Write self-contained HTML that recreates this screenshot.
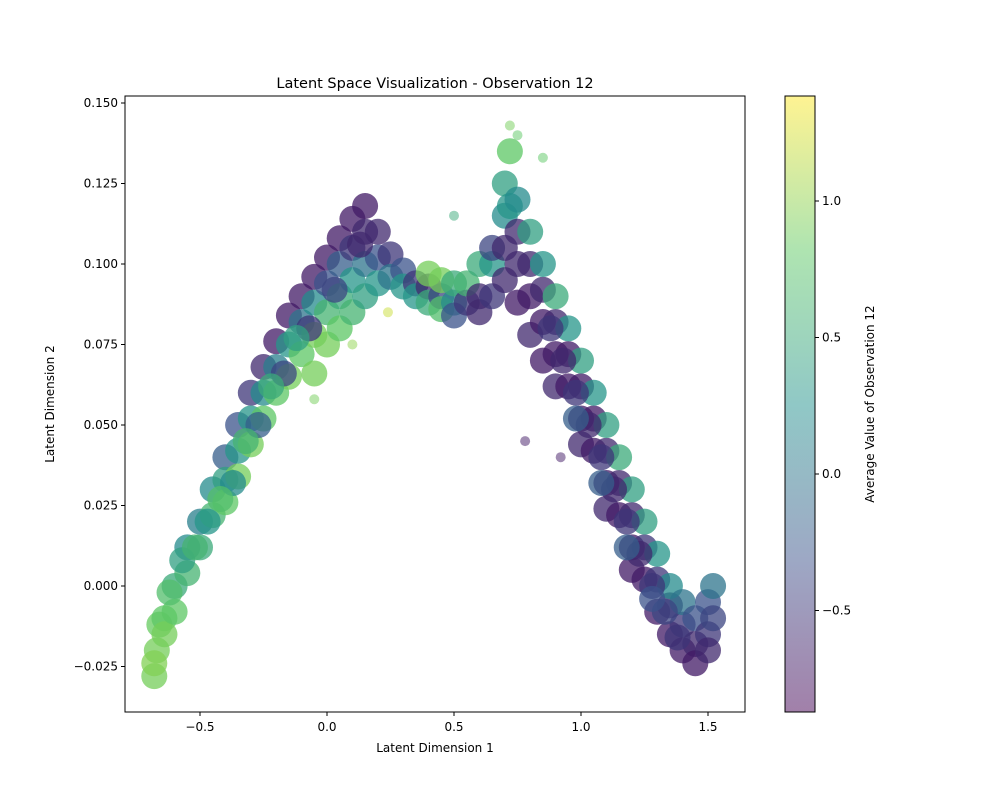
<!DOCTYPE html>
<html><head><meta charset="utf-8"><style>
body{margin:0;background:#fff;font-family:"Liberation Sans","DejaVu Sans",sans-serif}
svg text{font-family:"DejaVu Sans","Liberation Sans",sans-serif;font-size:12px;fill:#000}
</style></head><body>
<svg id="c" width="1000" height="800" xmlns="http://www.w3.org/2000/svg">
<defs><linearGradient id="vg" x1="0" y1="1" x2="0" y2="0">
<stop offset="0" stop-color="#440154"/><stop offset="0.25" stop-color="#3b528b"/><stop offset="0.5" stop-color="#21918c"/><stop offset="0.75" stop-color="#5ec962"/><stop offset="1" stop-color="#fde725"/></linearGradient>
<clipPath id="clip"><rect x="125" y="96" width="620" height="616"/></clipPath></defs>
<text x="435" y="88" text-anchor="middle" style="font-size:14.5px">Latent Space Visualization - Observation 12</text>
<g id="pts" clip-path="url(#clip)"></g>
<rect x="125" y="96" width="620" height="616" fill="none" stroke="#000" stroke-width="1"/>
<g id="ax"></g>
<text x="435" y="752" text-anchor="middle">Latent Dimension 1</text>
<text transform="translate(54,404) rotate(-90)" text-anchor="middle">Latent Dimension 2</text>
<rect x="785" y="96" width="30" height="616" fill="url(#vg)" opacity="0.5" stroke="none"/>
<rect x="785" y="96" width="30" height="616" fill="none" stroke="#000" stroke-width="1"/>
<text transform="translate(874,404) rotate(-90)" text-anchor="middle">Average Value of Observation 12</text>
</svg>
<script>
const xs=[-0.68,-0.67,-0.66,-0.68,-0.64,-0.64,-0.60,-0.60,-0.55,-0.55,-0.50,-0.50,-0.45,-0.45,-0.40,-0.40,-0.40,-0.35,-0.35,-0.35,-0.30,-0.30,-0.30,-0.25,-0.25,-0.25,-0.20,-0.20,-0.20,-0.15,-0.15,-0.15,-0.10,-0.10,-0.10,-0.05,-0.05,-0.05,-0.05,0.00,0.00,0.00,0.00,0.05,0.05,0.05,0.05,0.10,0.10,0.10,0.10,0.15,0.15,0.15,0.15,0.20,0.20,0.20,0.25,0.25,0.30,0.30,0.35,0.35,0.40,0.40,0.40,0.45,0.45,0.45,0.50,0.50,0.50,0.55,0.55,0.60,0.60,0.60,0.65,0.65,0.65,0.70,0.70,0.70,0.70,0.72,0.72,0.75,0.75,0.75,0.75,0.80,0.80,0.80,0.80,0.85,0.85,0.85,0.85,0.90,0.90,0.90,0.90,0.95,0.95,0.95,1.00,1.00,1.00,1.00,1.05,1.05,1.05,1.10,1.10,1.10,1.10,1.15,1.15,1.15,1.20,1.20,1.20,1.20,1.25,1.25,1.25,1.30,1.30,1.30,1.35,1.35,1.35,1.40,1.40,1.40,1.45,1.45,1.45,1.50,1.50,1.50,1.52,1.52,
0.88,0.93,0.98,1.03,1.08,1.13,1.18,1.23,1.28,1.33,1.38,0.98,1.08,1.18,1.28,-0.57,-0.47,-0.37,-0.27,-0.17,-0.07,0.03,0.13,-0.62,-0.52,-0.42,-0.32,-0.22,-0.12,
0.72,0.75,0.24,0.50,0.10,-0.05,0.85,0.78,0.92];
const ys=[-0.028,-0.020,-0.012,-0.024,-0.010,-0.015,0.000,-0.008,0.012,0.004,0.020,0.012,0.030,0.022,0.040,0.033,0.026,0.050,0.042,0.034,0.060,0.052,0.044,0.068,0.060,0.052,0.076,0.068,0.060,0.084,0.075,0.065,0.090,0.082,0.072,0.096,0.088,0.078,0.066,0.102,0.094,0.085,0.075,0.108,0.100,0.090,0.080,0.114,0.105,0.095,0.085,0.118,0.110,0.100,0.090,0.110,0.102,0.094,0.103,0.096,0.098,0.093,0.094,0.090,0.093,0.088,0.097,0.090,0.086,0.095,0.088,0.084,0.094,0.088,0.094,0.090,0.100,0.085,0.100,0.105,0.090,0.115,0.105,0.125,0.095,0.135,0.118,0.110,0.120,0.100,0.088,0.100,0.110,0.090,0.078,0.092,0.100,0.082,0.070,0.082,0.090,0.072,0.062,0.072,0.080,0.062,0.062,0.070,0.052,0.044,0.052,0.060,0.042,0.042,0.050,0.032,0.024,0.032,0.040,0.022,0.022,0.030,0.012,0.005,0.012,0.020,0.002,0.002,0.010,-0.008,-0.006,0.000,-0.015,-0.012,-0.020,-0.005,-0.018,-0.024,-0.010,-0.015,-0.005,-0.020,0.000,-0.010,
0.080,0.070,0.060,0.050,0.040,0.030,0.020,0.010,0.000,-0.008,-0.016,0.052,0.032,0.012,-0.004,0.008,0.020,0.032,0.050,0.066,0.080,0.092,0.106,-0.002,0.012,0.027,0.045,0.062,0.077,
0.143,0.140,0.085,0.115,0.075,0.058,0.133,0.045,0.040];
const vs=[0.9,0.9,0.85,0.95,0.8,0.9,0.5,0.8,0.2,0.6,0.1,0.5,0.2,0.6,-0.2,0.4,0.8,-0.3,0.3,0.9,-0.5,0.3,0.9,-0.6,0.2,0.8,-0.7,0.1,0.8,-0.7,0.3,0.9,-0.7,0.0,0.8,-0.7,0.2,0.9,0.9,-0.7,-0.3,0.6,0.9,-0.7,-0.2,0.5,0.8,-0.7,-0.5,0.3,0.6,-0.7,-0.6,0.0,0.4,-0.6,-0.3,0.3,-0.5,0.0,-0.3,0.3,-0.5,0.3,-0.6,0.5,0.9,-0.4,0.7,0.9,0.2,-0.3,0.5,-0.5,0.6,-0.6,0.5,-0.6,0.3,-0.4,-0.5,0.2,-0.6,0.4,-0.6,0.8,0.3,-0.6,0.2,-0.6,-0.7,-0.6,0.4,-0.7,-0.6,-0.6,0.3,-0.7,-0.7,-0.6,0.5,-0.7,-0.6,-0.7,0.3,-0.7,-0.7,0.4,-0.7,-0.6,-0.7,0.3,-0.7,-0.6,0.4,-0.7,-0.6,-0.6,0.5,-0.7,-0.6,0.4,-0.7,-0.7,-0.5,0.4,-0.7,-0.5,0.3,-0.7,-0.6,0.2,-0.7,-0.5,-0.7,0.0,-0.6,-0.7,-0.3,-0.5,-0.3,-0.6,0.0,-0.4,
-0.5,-0.6,-0.5,-0.6,-0.5,-0.6,-0.5,-0.6,-0.5,-0.4,-0.5,-0.2,-0.2,-0.2,-0.3,0.4,0.3,0.2,-0.2,-0.4,-0.5,-0.4,-0.6,0.7,0.6,0.7,0.6,0.5,0.4,
0.9,0.8,1.2,0.5,1.0,0.9,0.8,-0.7,-0.7];
const xTicks=[-0.5,0.0,0.5,1.0,1.5];
const xTickLabels=["\u22120.5","0.0","0.5","1.0","1.5"];
const yTicks=[-0.025,0,0.025,0.05,0.075,0.1,0.125,0.15];
const yTickLabels=["\u22120.025","0.000","0.025","0.050","0.075","0.100","0.125","0.150"];
const cTicks=[-0.5,0.0,0.5,1.0];
const cTickLabels=["\u22120.5","0.0","0.5","1.0"];
const NS='http://www.w3.org/2000/svg';
const X=v=>327+v*254, Y=v=>586-v*3220, C=v=>474-v*273;
const vmin=-0.87,vmax=1.385;
const stops=[[68,1,84],[59,82,139],[33,145,140],[94,201,98],[253,231,37]];
function vir(v){let t=Math.max(0,Math.min(1,(v-vmin)/(vmax-vmin)))*4;let i=Math.min(3,Math.floor(t)),f=t-i;const a=stops[i],b=stops[i+1];return `rgb(${a.map((c,k)=>Math.round(c+(b[k]-c)*f)).join(',')})`;}
const g=document.getElementById('pts');
for(let i=0;i<xs.length;i++){const c=document.createElementNS(NS,'circle');
c.setAttribute('cx',X(xs[i]));c.setAttribute('cy',Y(ys[i]));c.setAttribute('r',i>=xs.length-9?5:13);
c.setAttribute('fill',vir(vs[i]));c.setAttribute('fill-opacity',i>=xs.length-9?0.5:0.75);


g.appendChild(c);}
const ax=document.getElementById('ax');
function line(x1,y1,x2,y2){const l=document.createElementNS(NS,'line');l.setAttribute('x1',x1);l.setAttribute('y1',y1);l.setAttribute('x2',x2);l.setAttribute('y2',y2);l.setAttribute('stroke','#000');ax.appendChild(l);}
function txt(x,y,s,a){const t=document.createElementNS(NS,'text');t.setAttribute('x',x);t.setAttribute('y',y);t.setAttribute('text-anchor',a);t.textContent=s;


ax.appendChild(t);}
xTicks.forEach((v,i)=>{line(X(v),712,X(v),716);txt(X(v),731,xTickLabels[i],'middle');});
yTicks.forEach((v,i)=>{line(121,Y(v),125,Y(v));txt(118,Y(v)+4,yTickLabels[i],'end');});
cTicks.forEach((v,i)=>{line(815,C(v),819,C(v));txt(822,C(v)+4,cTickLabels[i],'start');});
</script>
</body></html>
